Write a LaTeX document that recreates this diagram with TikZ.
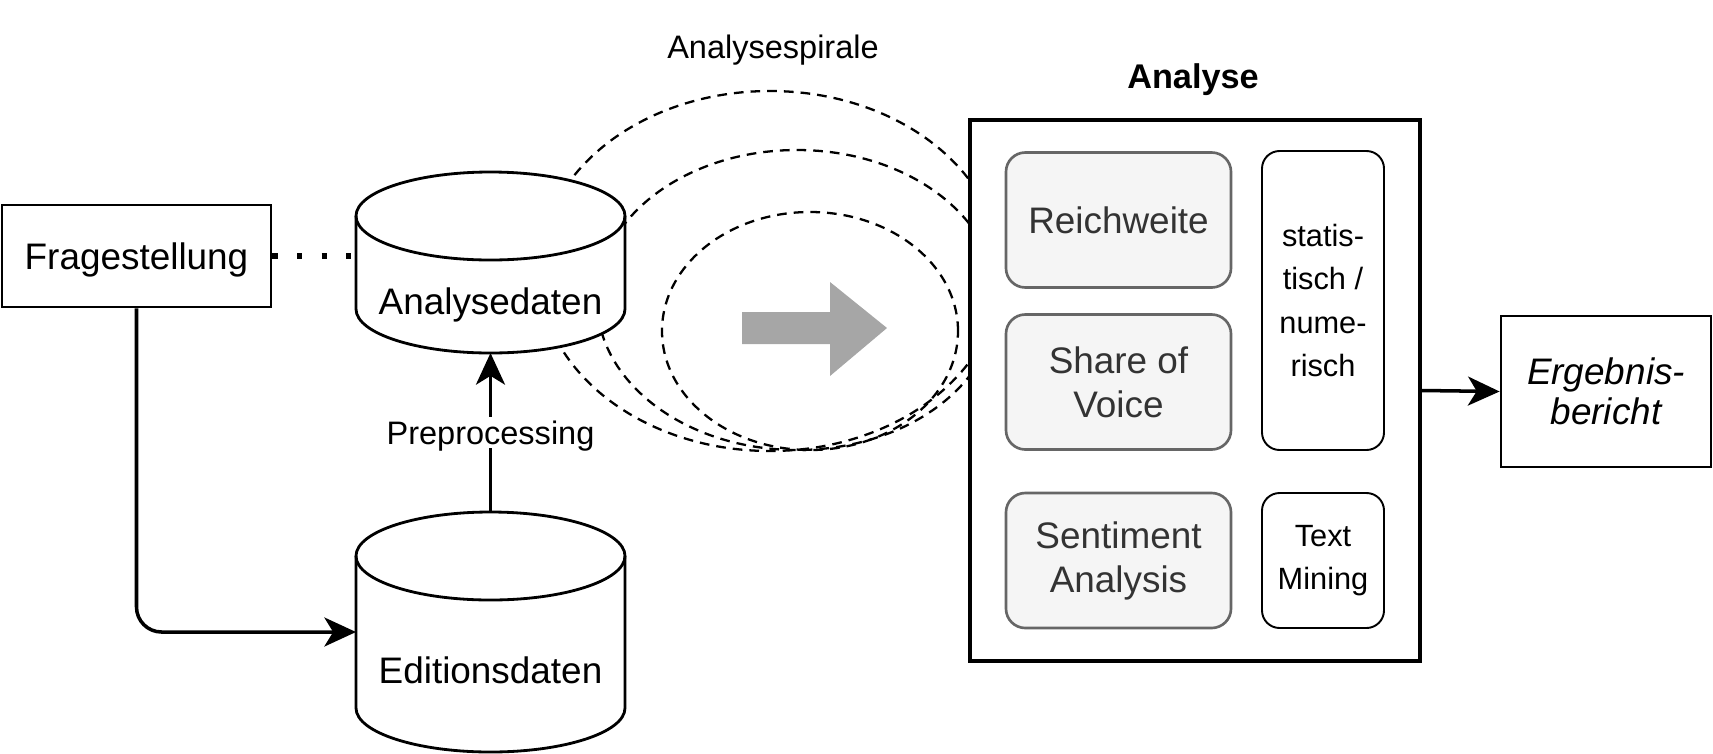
\documentclass[tikz,border=0pt]{standalone}
\usepackage{fontspec}
\setmainfont{Liberation Sans}
\usetikzlibrary{positioning,arrows.meta}
\definecolor{methodfill}{HTML}{F5F5F5}
\definecolor{methoddraw}{HTML}{666666}
\definecolor{methodtext}{HTML}{333333}
\definecolor{arrowgray}{HTML}{A6A6A6}
\tikzset{
  flowarrow/.style={-{Stealth[length=18pt, width=16.5pt, inset=5pt]}, line width=2pt},
  plainbox/.style={draw, line width=1.6pt, fill=white, align=center, font=\fontsize{21}{25}\selectfont},
  dbnode/.style={rectangle, inner sep=0pt, outer sep=0pt, minimum width=5.38cm},
  dbline/.style={draw, fill=white, line width=1.6pt},
  dbtext/.style={font=\fontsize{21}{25}\selectfont, text depth=0pt},
  methodbox/.style={draw=methoddraw, rounded corners=11pt, line width=1.5pt, fill=methodfill, text=methodtext, minimum width=4.5cm, minimum height=2.7cm, align=center, font=\fontsize{21}{25}\selectfont},
  typebox/.style={draw, rounded corners=10pt, line width=1.1pt, fill=white, minimum width=2.44cm, align=center, font=\fontsize{17.5}{24.5}\selectfont},
  spiral/.style={line width=1.3pt, dash pattern=on 5.5pt off 4pt},
  relabel/.style={font=\fontsize{18.5}{22}\selectfont, fill=white, inner sep=2pt, text depth=0pt}
}

\begin{document}
\begin{tikzpicture}
  \useasboundingbox (0,0) rectangle (34.26,-15.06);

  % spiral loops, partly hidden behind the data and the analysis box
  \draw[spiral] (15.4,-5.42) ellipse [x radius=4.62, y radius=3.6];
  \draw[spiral] (15.94,-6.0) ellipse [x radius=4.0, y radius=3.0];
  \draw[spiral] (16.2,-6.62) ellipse [x radius=2.96, y radius=2.38];
  \node[relabel, fill=none] (spirallabel) at (15.46,-0.94) {Analysespirale};
  \fill[arrowgray] (14.84,-6.24) -- (16.6,-6.24) -- (16.6,-5.64) -- (17.74,-6.56)
    -- (16.6,-7.52) -- (16.6,-6.88) -- (14.84,-6.88) -- cycle;

  \node[plainbox, minimum width=5.38cm, minimum height=2.04cm, text depth=0pt] (frage) at (2.73,-5.12) {Fragestellung};

  % data stores
  \node[dbnode, minimum height=3.62cm] (adaten) at (9.81,-5.25) {};
  \draw[dbline] ([yshift=-0.88cm]adaten.north west) -- ([yshift=0.88cm]adaten.south west)
    arc[start angle=180, end angle=360, x radius=2.69cm, y radius=0.88cm]
    -- ([yshift=-0.88cm]adaten.north east)
    arc[start angle=0, end angle=180, x radius=2.69cm, y radius=0.88cm] -- cycle;
  \draw[dbline, fill=none] ([yshift=-0.88cm]adaten.north west)
    arc[start angle=180, end angle=360, x radius=2.69cm, y radius=0.88cm];
  \node[dbtext] (adatentext) at ([yshift=-0.78cm]adaten.center) {Analysedaten};

  \node[dbnode, minimum height=4.8cm] (edaten) at (9.81,-12.64) {};
  \draw[dbline] ([yshift=-0.88cm]edaten.north west) -- ([yshift=0.88cm]edaten.south west)
    arc[start angle=180, end angle=360, x radius=2.69cm, y radius=0.88cm]
    -- ([yshift=-0.88cm]edaten.north east)
    arc[start angle=0, end angle=180, x radius=2.69cm, y radius=0.88cm] -- cycle;
  \draw[dbline, fill=none] ([yshift=-0.88cm]edaten.north west)
    arc[start angle=180, end angle=360, x radius=2.69cm, y radius=0.88cm];
  \node[dbtext] (edatentext) at ([yshift=-0.76cm]edaten.center) {Editionsdaten};

  % analysis block
  \node[draw, line width=2.2pt, fill=white, minimum width=9cm, minimum height=10.82cm] (analyse) at (23.9,-7.81) {};
  \node[font=\bfseries\fontsize{19.5}{23}\selectfont, text depth=0pt] (analysetitle) at (23.86,-1.53) {Analyse};
  \node[methodbox] (reich) at (22.37,-4.4) {Reichweite};
  \node[methodbox] (share) at (22.37,-7.64) {Share of\\Voice};
  \node[methodbox] (senti) at (22.37,-11.21) {Sentiment\\Analysis};
  \node[typebox, minimum height=5.98cm] (stat) at (26.46,-6.01) {statis-\\tisch /\\nume-\\risch};
  \node[typebox, minimum height=2.7cm] (tmin) at (26.46,-11.21) {Text\\Mining};

  \node[plainbox, minimum width=4.2cm, minimum height=3.02cm, font=\itshape\fontsize{21}{23}\selectfont] (ergeb) at (32.12,-7.83) {Ergebnis-\\bericht};

  \draw[line width=3pt, dash pattern=on 3pt off 11pt] (frage.east) -- (frage.east -| adaten.west);
  \draw[flowarrow, rounded corners=0.5cm] (frage.south) |- (edaten.west);
  \draw[flowarrow] (edaten.north) -- node[relabel] {Preprocessing} (adaten.south);
  \draw[flowarrow] (analyse.east) -- (ergeb.west);
\end{tikzpicture}
\end{document}
